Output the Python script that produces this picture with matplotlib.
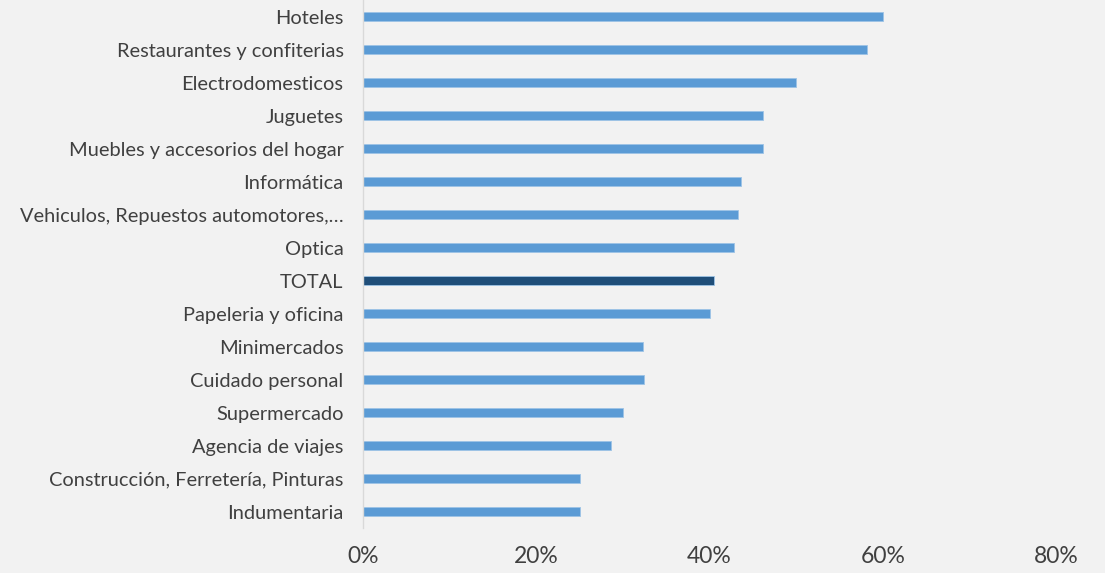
import matplotlib.pyplot as plt
from matplotlib.ticker import FuncFormatter

# Rubros y porcentajes (de arriba hacia abajo)
categories = [
    "Hoteles",
    "Restaurantes y confiterias",
    "Electrodomesticos",
    "Juguetes",
    "Muebles y accesorios del hogar",
    "Informática",
    "Vehiculos, Repuestos automotores,…",
    "Optica",
    "TOTAL",
    "Papeleria y oficina",
    "Minimercados",
    "Cuidado personal",
    "Supermercado",
    "Agencia de viajes",
    "Construcción, Ferretería, Pinturas",
    "Indumentaria",
]
values = [0.600, 0.582, 0.500, 0.462, 0.462, 0.436, 0.433, 0.428,
          0.405, 0.400, 0.323, 0.324, 0.300, 0.286, 0.250, 0.250]
x_ticks = [0, 0.2, 0.4, 0.6, 0.8]

bg = "#f2f2f2"
bar_color = "#5b9bd5"
total_color = "#1f4e79"

fig = plt.figure(figsize=(11.05, 5.73), dpi=100, facecolor=bg)
ax = fig.add_axes([0.3285, 0.0785, 0.6272, 0.9215], facecolor=bg)

n = len(categories)
ypos = list(range(n))[::-1]
colors = [total_color if c == "TOTAL" else bar_color for c in categories]
ax.barh(ypos, values, height=0.3, color=colors, edgecolor="#9dc3e6", linewidth=0.6)

ax.set_ylim(-0.5, n - 0.5)
ax.set_xlim(0, 0.8)
ax.set_yticks(ypos)
ax.set_yticklabels(categories, fontsize=14.4, color="#404040", family="Lato",
                   va="center_baseline")
ax.set_xticks(x_ticks)
ax.xaxis.set_major_formatter(FuncFormatter(lambda v, _: f"{v*100:.0f}%"))
for lbl in ax.get_xticklabels():
    lbl.set_fontsize(16.5)
    lbl.set_color("#404040")
    lbl.set_family("Lato")

ax.tick_params(axis="y", length=0, pad=14)
ax.tick_params(axis="x", length=0, pad=13)
for side in ["top", "right", "bottom"]:
    ax.spines[side].set_visible(False)
ax.spines["left"].set_color("#d9d9d9")
ax.spines["left"].set_linewidth(1)

fig.savefig("out.png", dpi=100, facecolor=bg)
